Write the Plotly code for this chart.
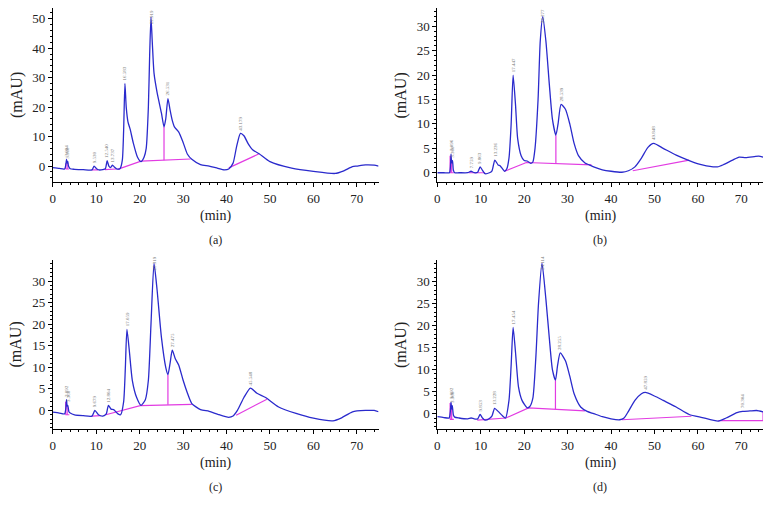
import plotly.graph_objects as go

# ---------------- data ----------------
# Panel (a)
a_t = [0, 1.5, 2.7, 3.0, 3.15, 3.3, 3.45, 3.6, 4.0, 5, 7, 9.0, 9.5, 10.0, 10.6, 11.5, 12.1, 12.5, 12.9, 13.3, 13.7, 14.1, 14.8, 15.5,
       16.0, 16.3, 16.6, 16.9, 17.3, 17.8, 18.5, 19.5, 20.3, 21.0, 21.5, 22.0, 22.3, 22.6, 22.9, 23.3, 24.0, 25.0, 25.6,
       26.0, 26.5, 27.0, 27.5, 28.0, 29.0, 30.0, 31.0, 32.0, 34.0, 36.0, 38.0, 39.5, 40.5, 41.5, 42.3, 43.2, 44.0, 45.0,
       46.0, 47.5, 50.0, 55.0, 60.0, 65.0, 67.0, 69.0, 70.0, 72.0, 74.0, 75.0]
a_v = [-0.5, -0.8, -1.0, 0.5, 2.3, 1.0, 1.6, 0.0, -0.9, -1.1, -1.2, -1.3, 0.0, -0.8, -1.3, -1.2, -0.9, 1.8, 0.0, -0.5, 0.3, -0.2, -1.0, -0.8,
       2.0, 12.0, 28.0, 20.0, 15.0, 12.5, 8.0, 3.0, 1.5, 3.0, 6.0, 20.0, 38.0, 50.5, 42.0, 31.5, 25.0, 18.0, 13.3,
       16.0, 22.9, 19.0, 15.5, 13.3, 11.5, 8.0, 4.0, 2.3, 0.5, 0.0, -0.8, -1.3, -1.0, 1.0, 6.5, 11.1, 10.3, 7.5,
       5.5, 4.2, 1.5, -0.7, -1.8, -2.5, -1.6, -0.2, 0.0, 0.4, 0.3, 0.0]
a_base_t = [[2.9, 3.7], [9.0, 10.4], [12.0, 14.6], [14.9, 20.3, 31.7], [40.5, 47.4]]
a_base_v = [[-1.0, -1.0], [-1.3, -1.3], [-1.2, -1.0], [-1.1, 1.7, 2.4], [-0.6, 4.1]]
a_drop_t = [[2.95, 2.95], [3.3, 3.3], [25.6, 25.6]]
a_drop_v = [[-1.0, 1.0], [-1.0, 1.0], [2.0, 13.3]]
a_lab_t = [3.1, 3.35, 9.5, 12.5, 13.7, 16.6, 22.6, 26.5, 43.2]
a_lab_v = [2.3, 1.6, 0.0, 1.8, 0.3, 28.0, 50.5, 22.9, 11.1]
a_lab = ["3.094", "3.360", "9.530", "12.540", "13.737", "16.583", "22.919", "26.531", "43.179"]

# Panel (b)
b_t = [0, 1.5, 2.8, 3.0, 3.15, 3.3, 3.5, 3.7, 4.0, 5, 7.0, 7.76, 8.5, 9.3, 9.86, 10.4, 11.0, 12.0, 12.6, 13.24, 14.0, 14.5, 15.5,
       16.0, 16.5, 17.0, 17.45, 18.0, 18.5, 19.3, 20.0, 20.7, 21.5, 22.0, 22.5, 23.2, 23.7, 24.27, 25.0, 25.8, 26.5, 27.3,
       27.8, 28.5, 29.5, 30.5, 31.5, 32.5, 34.0, 35.0, 36.0, 38.0, 40.0, 42.5, 44.0, 45.5, 47.0, 48.5, 49.8, 52.0, 55.0,
       58.0, 61.0, 64.5, 66.0, 68.0, 69.5, 71.0, 73.0, 74.0, 75.0]
b_v = [0.0, 0.0, 0.0, 1.0, 3.8, 2.0, 2.5, 0.5, 0.0, 0.0, 0.0, 0.3, 0.0, 0.1, 1.2, 0.5, -0.2, 0.0, 0.4, 2.6, 1.6, 1.4, 0.3,
       0.8, 3.0, 10.0, 20.0, 14.0, 7.0, 3.5, 2.5, 2.4, 1.9, 2.2, 5.0, 15.0, 27.0, 32.0, 27.0, 18.0, 11.0, 7.7,
       10.0, 14.0, 13.0, 10.0, 6.0, 3.5, 2.0, 1.6, 1.2, 0.6, 0.3, 0.1, 0.4, 1.2, 3.0, 5.2, 6.0, 5.0, 3.6,
       2.5, 1.6, 1.2, 1.7, 2.6, 3.2, 3.1, 3.3, 3.4, 3.2]
b_base_t = [[2.9, 3.8], [7.2, 11.0], [15.5, 20.5, 35.5], [45.0, 58.0]]
b_base_v = [[0.0, 0.0], [0.0, 0.0], [0.3, 2.1, 1.6], [0.4, 2.6]]
b_drop_t = [[2.95, 2.95], [3.3, 3.3], [27.3, 27.3]]
b_drop_v = [[0.0, 3.5], [0.0, 2.0], [1.85, 7.7]]
b_lab_t = [3.1, 3.45, 7.76, 9.86, 13.24, 17.45, 24.27, 28.5, 49.8]
b_lab_v = [3.8, 2.5, 0.3, 1.2, 2.6, 20.0, 32.0, 14.0, 6.0]
b_lab = ["3.096", "3.360", "7.759", "9.863", "13.236", "17.447", "24.277", "28.539", "49.848"]

# Panel (c)
c_t = [0, 1.5, 2.7, 3.0, 3.15, 3.3, 3.45, 3.7, 4.0, 5, 7, 9.0, 9.68, 10.5, 11.5, 12.3, 12.8, 13.4, 14.0, 15.0, 15.6,
       16.3, 16.7, 17.06, 17.6, 18.3, 19.3, 20.3, 21.3, 22.0, 22.6, 23.3, 24.0, 25.0, 26.0, 26.5,
       27.0, 27.5, 28.2, 29.0, 30.0, 31.0, 32.0, 34.0, 36.0, 38.0, 40.5, 41.5, 42.5, 44.0, 45.5, 47.0, 49.0,
       52.0, 56.0, 60.0, 64.5, 66.5, 69.0, 72.0, 74.0, 75.0]
c_v = [-0.4, -0.6, -0.8, 0.5, 2.5, 1.0, 1.2, -0.3, -0.6, -1.0, -1.2, -1.3, 0.0, -1.0, -1.3, -0.8, 1.2, 0.3, 0.2, -0.8, -1.0,
       2.0, 10.0, 18.8, 14.0, 7.0, 3.0, 1.2, 2.5, 7.0, 20.0, 34.1, 28.0, 17.0, 10.0, 8.3,
       11.0, 14.0, 12.0, 10.5, 7.0, 4.0, 1.6, 0.2, -0.2, -0.9, -1.6, -1.3, 0.0, 3.0, 5.2, 4.0, 3.0,
       0.8, -0.7, -1.8, -2.4, -1.7, -0.3, 0.0, 0.0, -0.3]
c_base_t = [[2.9, 3.8], [9.0, 11.0], [12.2, 20.1, 32.0], [42.2, 49.3]]
c_base_v = [[-1.0, -1.0], [-1.3, -1.2], [-1.0, 1.1, 1.4], [-1.1, 2.6]]
c_drop_t = [[2.95, 2.95], [3.3, 3.3], [26.5, 26.5]]
c_drop_v = [[-1.0, 2.0], [-1.0, 1.0], [1.3, 8.3]]
c_lab_t = [3.1, 3.45, 9.68, 12.8, 17.06, 23.3, 27.5, 45.5]
c_lab_v = [2.5, 1.2, 0.0, 1.2, 18.8, 34.1, 14.0, 5.2]
c_lab = ["3.092", "3.360", "9.679", "12.804", "17.059", "23.319", "27.475", "45.548"]

# Panel (d)
d_t = [0, 1.5, 2.7, 3.0, 3.15, 3.3, 3.45, 3.7, 4.0, 5, 7.0, 7.8, 8.5, 9.3, 9.85, 10.4, 11.0, 12.0, 12.6, 13.2, 14.0, 15.0, 15.7,
       16.5, 17.0, 17.45, 18.0, 18.7, 19.5, 20.7, 21.3, 22.0, 22.7, 23.3, 24.1, 25.0, 25.8, 26.5, 27.2,
       27.7, 28.3, 29.5, 30.5, 31.5, 33.0, 34.5, 36.0, 38.0, 40.0, 42.0, 43.0, 44.0, 45.5, 47.0, 47.9, 50.0, 52.0,
       55.0, 58.0, 61.0, 64.7, 66.5, 69.0, 70.3, 72.0, 73.5, 75.0]
d_v = [-0.7, -0.9, -1.0, 0.5, 2.6, 1.0, 1.8, -0.3, -0.8, -1.0, -1.2, -1.0, -1.2, -1.2, -0.2, -1.0, -1.5, -1.1, -0.5, 1.2, 0.5, -0.5, -1.0,
       3.0, 11.0, 19.6, 14.0, 6.0, 3.0, 1.3, 1.6, 3.5, 13.0, 25.0, 34.2, 26.0, 17.0, 10.0, 7.6,
       11.0, 13.8, 12.0, 8.5, 4.5, 1.5, 0.5, 0.0, -0.7, -1.2, -1.4, -1.0, 0.5, 3.0, 4.5, 4.8, 4.0, 3.0,
       1.5, -0.2, -0.9, -1.7, -1.0, 0.2, 0.5, 0.6, 0.7, 0.4]
d_base_t = [[2.9, 3.8], [9.2, 15.8, 21.0, 34.0], [42.5, 58.5], [64.7, 75.0]]
d_base_v = [[-1.3, -1.3], [-1.5, -1.0, 1.3, 0.6], [-1.4, -0.6], [-1.6, -1.6]]
d_drop_t = [[2.95, 2.95], [3.3, 3.3], [27.2, 27.2], [75.0, 75.0]]
d_drop_v = [[-1.3, 2.4], [-1.3, 1.0], [1.0, 7.6], [-1.6, 0.4]]
d_lab_t = [3.1, 3.45, 9.85, 13.2, 17.45, 24.1, 28.3, 47.9, 70.3]
d_lab_v = [2.6, 1.8, -0.2, 1.2, 19.6, 34.2, 13.8, 4.8, 0.5]
d_lab = ["3.092", "3.360", "9.853", "13.228", "17.454", "24.114", "28.255", "47.859", "70.304"]

x_ticks = [0, 10, 20, 30, 40, 50, 60, 70]
panel_names = ["(a)", "(b)", "(c)", "(d)"]

# ---------------- layout geometry ----------------
# The page body has an 8 px margin, so the figure is 8 px smaller and every
# reference pixel position is shifted by -8.
OFF = 8
W, H = 772 - OFF, 513 - OFF
BLUE = "#2a2acc"
MAG = "#e23be2"
FONT = "Liberation Serif"

panels = [
    dict(t=a_t, v=a_v, bt=a_base_t, bv=a_base_v, dt=a_drop_t, dv=a_drop_v, lt=a_lab_t, lv=a_lab_v, lab=a_lab,
         px=(50, 377), py=(8, 182), yr=(-5.4, 53.6), dtick=10, minor=2),
    dict(t=b_t, v=b_v, bt=b_base_t, bv=b_base_v, dt=b_drop_t, dv=b_drop_v, lt=b_lab_t, lv=b_lab_v, lab=b_lab,
         px=(436, 763), py=(8, 182), yr=(-1.9, 33.75), dtick=5, minor=1),
    dict(t=c_t, v=c_v, bt=c_base_t, bv=c_base_v, dt=c_drop_t, dv=c_drop_v, lt=c_lab_t, lv=c_lab_v, lab=c_lab,
         px=(50, 377), py=(260, 429), yr=(-4.3, 34.9), dtick=5, minor=1),
    dict(t=d_t, v=d_v, bt=d_base_t, bv=d_base_v, dt=d_drop_t, dv=d_drop_v, lt=d_lab_t, lv=d_lab_v, lab=d_lab,
         px=(436, 763), py=(260, 429), yr=(-3.5, 34.9), dtick=5, minor=1),
]


def fx(px):
    return (px - OFF) / W


def fy(py):
    return (H - (py - OFF)) / H


fig = go.Figure()
annotations = []
layout = dict(width=W, height=H, margin=dict(l=0, r=0, t=0, b=0), showlegend=False,
              paper_bgcolor="white", plot_bgcolor="white", font=dict(family=FONT, color="#222"))

for i, p in enumerate(panels):
    n = "" if i == 0 else str(i + 1)
    xa, ya = "x" + n, "y" + n
    for bt, bv in zip(p["bt"], p["bv"]):
        fig.add_trace(go.Scatter(x=bt, y=bv, mode="lines", line=dict(color=MAG, width=1.2),
                                 xaxis=xa, yaxis=ya, hoverinfo="skip"))
    for dt, dv in zip(p["dt"], p["dv"]):
        fig.add_trace(go.Scatter(x=dt, y=dv, mode="lines", line=dict(color=MAG, width=1.2),
                                 xaxis=xa, yaxis=ya, hoverinfo="skip"))
    fig.add_trace(go.Scatter(x=p["t"], y=p["v"], mode="lines",
                             line=dict(color=BLUE, width=1.3, shape="spline", smoothing=0.6),
                             xaxis=xa, yaxis=ya))
    ymin, ymax = p["yr"]
    for lt, lv, lab in zip(p["lt"], p["lv"], p["lab"]):
        near_top = (ymax - lv) / (ymax - ymin) < 0.1
        annotations.append(dict(x=lt, y=lv, xref=xa, yref=ya, text=lab, textangle=-90,
                                showarrow=False, xanchor="center",
                                yanchor="middle" if near_top else "bottom",
                                yshift=0 if near_top else 1,
                                font=dict(family=FONT, size=5, color="#777")))

    x0, x1 = p["px"]
    ytop, ybot = p["py"]
    common = dict(showline=True, linecolor="black", linewidth=1, ticks="outside", ticklen=4,
                  tickcolor="black", showgrid=False, zeroline=False,
                  tickfont=dict(family=FONT, size=13, color="#222"))
    layout["xaxis" + n] = dict(domain=[fx(x0), fx(x1)], range=[0, 75], anchor=ya, tickvals=x_ticks,
                               minor=dict(ticks="outside", ticklen=2, dtick=2, tickcolor="black"), **common)
    layout["yaxis" + n] = dict(domain=[fy(ybot), fy(ytop)], range=list(p["yr"]), anchor=xa,
                               dtick=p["dtick"], tick0=0,
                               minor=dict(ticks="outside", ticklen=2, dtick=p["minor"], tickcolor="black"), **common)
    xc = (x0 + x1) / 2
    annotations.append(dict(text="(min)", x=fx(xc), y=fy(ybot + 34), xref="paper", yref="paper",
                            xanchor="center", yanchor="middle", showarrow=False,
                            font=dict(family=FONT, size=14, color="#222")))
    annotations.append(dict(text=panel_names[i], x=fx(xc), y=fy(ybot + 58), xref="paper", yref="paper",
                            xanchor="center", yanchor="middle", showarrow=False,
                            font=dict(family=FONT, size=12, color="#222")))
    annotations.append(dict(text="(mAU)", x=fx(x0 - 36), y=fy((ytop + ybot) / 2), xref="paper",
                            yref="paper", xanchor="center", yanchor="middle", showarrow=False, textangle=-90,
                            font=dict(family=FONT, size=16, color="#222")))

layout["annotations"] = annotations
fig.update_layout(**layout)
fig.write_html("out.html")
